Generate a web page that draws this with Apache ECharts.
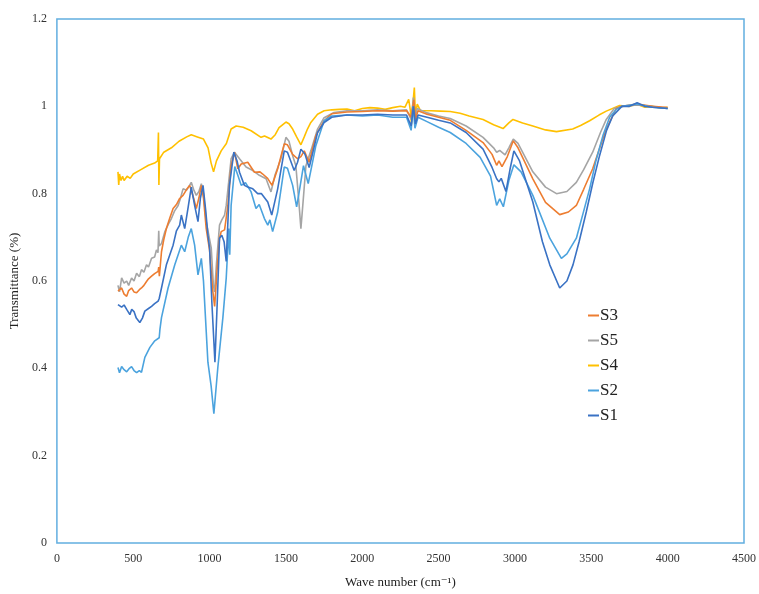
<!DOCTYPE html>
<html>
<head>
<meta charset="utf-8">
<script src="https://cdn.jsdelivr.net/npm/echarts@6/dist/echarts.min.js"></script>
<style>html,body{margin:0;padding:0;background:#fff;}#chart{width:759px;height:594px;}</style>
</head>
<body>
<div id="chart"></div>
<script>
// ---- Data ----
var xTicks = [0, 500, 1000, 1500, 2000, 2500, 3000, 3500, 4000, 4500];
var yTicks = [0, 0.2, 0.4, 0.6, 0.8, 1, 1.2];
var legendOrder = ['S3', 'S5', 'S4', 'S2', 'S1'];

var waveS4 = [400,405,410,420,430,440,460,480,500,550,600,640,660,665,668,672,700,750,800,850,880,920,960,990,1010,1026,1045,1076,1110,1141,1174,1220,1272,1337,1360,1402,1430,1455,1500,1520,1544,1570,1598,1620,1641,1663,1707,1750,1800,1850,1900,1950,2000,2050,2100,2150,2200,2250,2280,2304,2315,2322,2330,2341,2348,2360,2381,2450,2511,2576,2641,2700,2791,2860,2922,2960,2987,3050,3117,3200,3272,3378,3430,3489,3550,3598,3685,3750,3800,3850,3900,3950,4000];
var valS4 = [0.85,0.82,0.845,0.83,0.84,0.83,0.84,0.835,0.845,0.855,0.865,0.87,0.875,0.94,0.82,0.88,0.895,0.905,0.92,0.93,0.935,0.93,0.925,0.905,0.87,0.85,0.875,0.898,0.915,0.948,0.955,0.952,0.944,0.929,0.932,0.925,0.935,0.951,0.964,0.96,0.948,0.93,0.912,0.93,0.948,0.963,0.982,0.99,0.992,0.993,0.994,0.99,0.995,0.997,0.996,0.993,0.997,1.0,0.998,1.016,0.99,0.96,1.0,1.043,0.98,1.005,0.99,0.99,0.989,0.988,0.984,0.978,0.97,0.958,0.949,0.962,0.97,0.962,0.955,0.946,0.942,0.948,0.956,0.967,0.98,0.989,1.002,1.0,1.005,0.998,1.0,0.996,0.998];

var waveS5 = [400,410,424,440,457,470,489,505,522,540,554,570,587,600,620,640,652,662,667,670,685,707,730,750,770,794,810,826,850,880,895,913,930,946,960,978,1011,1025,1033,1045,1065,1080,1098,1109,1120,1141,1163,1196,1239,1283,1326,1370,1402,1428,1467,1500,1520,1544,1565,1585,1598,1612,1631,1663,1707,1750,1815,1900,2000,2100,2200,2290,2320,2335,2345,2360,2424,2500,2576,2680,2791,2860,2880,2900,2935,2960,2989,3020,3117,3200,3272,3340,3402,3450,3509,3560,3598,3650,3700,3800,3900,4000];
var valS5 = [0.59,0.575,0.607,0.595,0.6,0.59,0.607,0.6,0.618,0.61,0.626,0.62,0.637,0.632,0.652,0.655,0.671,0.665,0.715,0.68,0.686,0.713,0.73,0.743,0.76,0.773,0.79,0.811,0.808,0.826,0.81,0.796,0.805,0.823,0.8,0.736,0.675,0.59,0.575,0.64,0.728,0.74,0.751,0.773,0.777,0.88,0.895,0.88,0.861,0.853,0.842,0.834,0.804,0.842,0.88,0.929,0.92,0.887,0.864,0.78,0.72,0.78,0.864,0.898,0.948,0.974,0.986,0.99,0.99,0.992,0.99,0.992,0.97,1.02,0.975,0.995,0.985,0.978,0.972,0.955,0.929,0.905,0.895,0.899,0.889,0.905,0.925,0.915,0.85,0.815,0.8,0.805,0.826,0.855,0.895,0.94,0.97,0.995,1.0,1.003,1.0,0.995];

var waveS3 = [400,410,424,440,457,470,489,505,522,540,554,570,587,600,620,640,663,667,671,685,700,717,740,761,783,804,826,850,870,880,895,913,930,946,960,978,1000,1020,1033,1050,1065,1076,1098,1120,1141,1163,1185,1207,1250,1294,1330,1348,1380,1409,1446,1489,1510,1544,1576,1598,1620,1652,1696,1750,1800,1900,2000,2100,2200,2290,2320,2338,2348,2365,2424,2500,2576,2680,2791,2850,2880,2895,2915,2950,2989,3020,3117,3200,3293,3350,3402,3450,3509,3560,3598,3663,3700,3800,3900,4000];
var valS3 = [0.577,0.575,0.584,0.57,0.565,0.578,0.584,0.575,0.573,0.58,0.584,0.59,0.599,0.605,0.611,0.617,0.622,0.632,0.611,0.667,0.695,0.72,0.745,0.766,0.775,0.789,0.796,0.81,0.819,0.815,0.79,0.766,0.79,0.819,0.79,0.72,0.67,0.58,0.542,0.63,0.698,0.713,0.717,0.773,0.864,0.895,0.857,0.868,0.872,0.849,0.85,0.845,0.835,0.819,0.857,0.914,0.912,0.89,0.88,0.885,0.898,0.872,0.933,0.967,0.983,0.987,0.988,0.99,0.989,0.99,0.975,1.015,0.97,0.99,0.982,0.975,0.968,0.945,0.917,0.89,0.865,0.875,0.862,0.885,0.921,0.905,0.834,0.78,0.752,0.758,0.773,0.81,0.857,0.91,0.948,0.995,1.0,1.005,1.0,0.997];

var waveS2 = [400,410,424,440,457,475,489,505,522,540,554,576,609,641,670,675,685,728,772,815,837,860,880,902,924,946,960,989,995,1010,1028,1054,1087,1109,1120,1125,1132,1141,1165,1185,1207,1235,1272,1304,1325,1359,1381,1395,1413,1446,1489,1510,1544,1570,1585,1615,1646,1696,1750,1800,1900,2000,2100,2200,2290,2320,2333,2345,2365,2424,2500,2576,2680,2772,2840,2880,2900,2924,2960,2993,3040,3117,3228,3304,3340,3350,3402,3450,3489,3530,3576,3620,3663,3700,3800,3900,4000];
var valS2 = [0.402,0.39,0.404,0.397,0.392,0.4,0.404,0.395,0.39,0.395,0.391,0.425,0.448,0.463,0.47,0.49,0.516,0.584,0.637,0.682,0.667,0.7,0.72,0.682,0.614,0.652,0.6,0.414,0.41,0.36,0.296,0.402,0.516,0.607,0.68,0.72,0.66,0.773,0.862,0.842,0.819,0.825,0.804,0.766,0.775,0.743,0.728,0.74,0.713,0.758,0.861,0.858,0.819,0.77,0.8,0.864,0.823,0.91,0.967,0.978,0.98,0.978,0.98,0.975,0.975,0.945,1.0,0.95,0.975,0.965,0.952,0.94,0.915,0.883,0.84,0.773,0.788,0.77,0.83,0.866,0.85,0.796,0.698,0.652,0.662,0.66,0.698,0.76,0.811,0.875,0.933,0.975,0.993,1.0,1.005,0.998,0.995];

var waveS1 = [400,410,424,440,457,478,490,505,520,543,560,576,600,620,640,663,670,685,717,761,783,804,815,837,860,880,902,924,940,957,975,989,1000,1015,1035,1050,1065,1080,1095,1109,1130,1159,1180,1196,1228,1250,1283,1315,1340,1381,1407,1446,1489,1510,1554,1576,1598,1625,1652,1680,1707,1750,1800,1900,2000,2100,2200,2290,2320,2335,2348,2365,2424,2500,2576,2680,2791,2850,2880,2895,2910,2941,2970,2993,3030,3117,3180,3228,3293,3340,3380,3420,3467,3510,3554,3600,3640,3700,3750,3800,3850,3900,4000];
var valS1 = [0.546,0.55,0.54,0.545,0.535,0.523,0.535,0.53,0.515,0.505,0.515,0.531,0.537,0.542,0.548,0.554,0.56,0.584,0.637,0.682,0.715,0.728,0.751,0.72,0.77,0.815,0.773,0.736,0.79,0.819,0.76,0.705,0.675,0.55,0.414,0.55,0.698,0.705,0.69,0.645,0.819,0.895,0.875,0.849,0.819,0.815,0.811,0.8,0.8,0.781,0.751,0.811,0.898,0.895,0.853,0.872,0.902,0.89,0.86,0.9,0.94,0.963,0.975,0.98,0.98,0.982,0.98,0.98,0.955,1.0,0.96,0.98,0.975,0.968,0.962,0.94,0.902,0.86,0.834,0.827,0.835,0.805,0.86,0.898,0.875,0.781,0.69,0.637,0.584,0.6,0.637,0.69,0.758,0.825,0.887,0.945,0.978,1.0,1.0,1.008,1.0,0.998,0.995];

var colors = { S1: '#3A72C4', S2: '#4BA3DE', S3: '#ED7D31', S4: '#FFC000', S5: '#A5A5A5' };

function pairs(xs, ys) { return xs.map(function (x, i) { return [x, ys[i]]; }); }

var seriesDefs = [
  { name: 'S1', x: waveS1, y: valS1 },
  { name: 'S2', x: waveS2, y: valS2 },
  { name: 'S3', x: waveS3, y: valS3 },
  { name: 'S4', x: waveS4, y: valS4 },
  { name: 'S5', x: waveS5, y: valS5 }
];
var drawOrder = ['S4', 'S5', 'S3', 'S2', 'S1'];

var FONT = "'Liberation Serif', 'DejaVu Serif', serif";
var chart = echarts.init(document.getElementById('chart'), null, { renderer: 'canvas' });
chart.setOption({
  animation: false,
  backgroundColor: '#ffffff',
  grid: { left: 55, right: 11, top: 19, bottom: 44, show: true, borderColor: '#62AEE0', borderWidth: 1.5, containLabel: false },
  legend: {
    data: legendOrder,
    orient: 'vertical',
    left: 583, top: 302,
    itemWidth: 11, itemHeight: 2, itemGap: 8,
    icon: 'rect',
    textStyle: { fontFamily: FONT, fontSize: 17, color: '#222', padding: [0, 0, 0, -4] }
  },
  xAxis: {
    type: 'value', min: 0, max: 4500, interval: 500,
    name: 'Wave number (cm⁻¹)', nameLocation: 'middle', nameGap: 33,
    nameTextStyle: { fontFamily: FONT, fontSize: 13, color: '#222' },
    axisLine: { show: false }, axisTick: { show: false }, splitLine: { show: false },
    axisLabel: { fontFamily: FONT, fontSize: 12, color: '#333', margin: 10, formatter: function (v) { return String(v); } }
  },
  yAxis: {
    type: 'value', min: 0, max: 1.2, interval: 0.2,
    name: 'Transmittance (%)', nameLocation: 'middle', nameGap: 28,
    nameTextStyle: { fontFamily: FONT, fontSize: 13, color: '#222' },
    axisLine: { show: false }, axisTick: { show: false }, splitLine: { show: false },
    axisLabel: { fontFamily: FONT, fontSize: 12, color: '#333', margin: 10, formatter: function (v) { return String(Math.round(v * 10) / 10); } }
  },
  series: drawOrder.map(function (n) {
    var d = seriesDefs.filter(function (s) { return s.name === n; })[0];
    return {
      name: n, type: 'line', showSymbol: false, symbol: 'none',
      lineStyle: { width: 1.6, color: colors[n] }, itemStyle: { color: colors[n] },
      data: pairs(d.x, d.y)
    };
  })
});
</script>
</body>
</html>
